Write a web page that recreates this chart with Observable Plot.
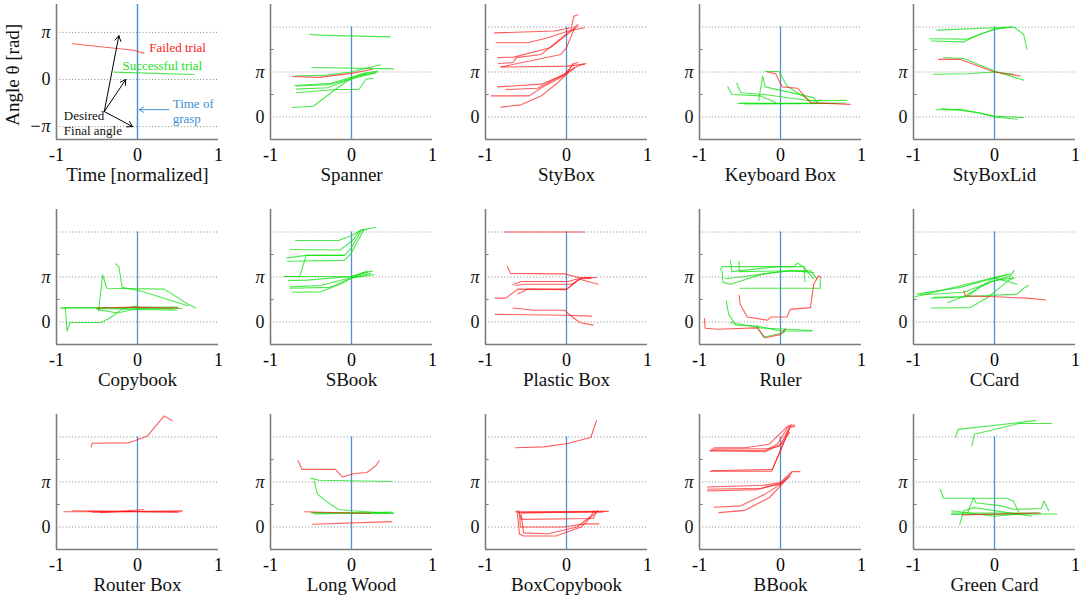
<!DOCTYPE html>
<html><head><meta charset="utf-8">
<script src="https://cdn.jsdelivr.net/npm/d3@7"></script>
<script src="https://cdn.jsdelivr.net/npm/@observablehq/plot@0.6"></script>
<style>
body{margin:0;background:#fff;}
#wrap{position:relative;width:1084px;height:600px;overflow:hidden;background:#fff;}
#wrap > div{position:absolute;}
#wrap svg{max-width:none !important;}
</style></head><body><div id="wrap"></div>
<script>
// ---------- data: [time (normalized), angle (in units of pi)] ----------
const titles = ["Time [normalized]","Spanner","StyBox","Keyboard Box","StyBoxLid","Copybook","SBook","Plastic Box","Ruler","CCard","Router Box","Long Wood","BoxCopybook","BBook","Green Card"];
const xTicks = [-1, 0, 1];
const yAxisTitle = "Angle θ [rad]";

const legendFailed = [[[-0.8,0.76],[-0.05,0.62],[0.08,0.56]]];
const legendSuccess = [[[-0.29,0.157],[0.70,0.107]]];
const desiredArrows = [
  {x1:-0.41,y1:-0.68,x2:-0.23,y2:0.93},
  {x1:-0.41,y1:-0.68,x2:-0.145,y2:0.0},
  {x1:-0.41,y1:-0.68,x2:-0.06,y2:-1.0}
];
const graspArrow = [{x1:0.39,y1:-0.64,x2:0.02,y2:-0.64}];
const legendLabels = [
  {x:0.145,y:0.68,s:"Failed trial",c:"#ff2020"},
  {x:-0.186,y:0.286,s:"Successful trial",c:"#22dd22"},
  {x:0.434,y:-0.52,s:"Time of",c:"#3d8fd6"},
  {x:0.434,y:-0.836,s:"grasp",c:"#3d8fd6"},
  {x:-0.909,y:-0.77,s:"Desired",c:"#111"},
  {x:-0.909,y:-1.08,s:"Final angle",c:"#111"}
];

const spannerS = [
  [[-0.52,1.84],[-0.4,1.82],[0.48,1.78]],
  [[-0.49,1.10],[0.52,1.07]],
  [[-0.7,0.91],[-0.3,0.93],[0,1.0],[0.36,1.16]],
  [[-0.68,0.69],[-0.3,0.72],[-0.1,0.80],[0.1,0.95],[0.32,1.02]],
  [[-0.68,0.62],[-0.3,0.65],[0,0.85],[0.3,0.98]],
  [[-0.68,0.54],[-0.2,0.61],[0.09,0.61],[0.18,0.84],[0.27,0.86]],
  [[-0.73,0.21],[-0.47,0.24],[-0.2,0.61],[-0.05,0.80],[0.19,0.99]],
  [[-0.7,0.70],[-0.25,0.75],[0,0.88],[0.32,1.0]]
];
const spannerF = [[[-0.73,0.90],[-0.4,0.88],[0,0.97],[0.26,1.06]]];

const styBoxS = [];
const styBoxF = [
  [[-0.89,1.87],[-0.15,1.91],[0.06,1.985],[0.09,2.24],[0.14,2.27]],
  [[-0.87,1.65],[-0.48,1.65],[-0.23,1.76],[0.02,1.91],[0.22,1.985]],
  [[-0.85,1.32],[-0.65,1.33],[-0.2,1.54],[0.14,2.02]],
  [[-0.84,1.19],[-0.66,1.21],[-0.62,1.32],[-0.31,1.39],[0.14,2.06]],
  [[-0.81,1.11],[-0.07,1.39],[0,1.54],[0.1,1.98]],
  [[-0.81,1.11],[0.0,1.13],[0.22,1.17]],
  [[-0.85,0.67],[-0.31,0.73],[-0.02,0.95],[0.08,1.17],[0.14,1.21]],
  [[-0.75,0.61],[-0.36,0.64],[-0.07,0.91],[0.18,1.17],[0.24,1.19]],
  [[-0.93,0.47],[-0.46,0.47],[-0.31,0.65],[0,0.95],[0.1,1.1]],
  [[-0.81,0.22],[-0.56,0.27],[-0.31,0.47],[-0.11,0.76],[0,0.95],[0.08,1.19]]
];

const keyboardS = [
  [[-0.53,0.30],[0.0,0.30],[0.70,0.30]],
  [[-0.5,0.31],[0.45,0.30]],
  [[-0.3,0.30],[0.8,0.31]],
  [[-0.45,0.29],[0.6,0.30]],
  [[-0.65,0.67],[-0.6,0.5],[-0.25,0.47],[-0.06,0.32]],
  [[-0.54,0.75],[-0.49,0.54],[-0.2,0.50],[0.37,0.36],[0.51,0.37]],
  [[-0.27,0.36],[-0.22,0.91],[-0.19,0.67],[0.41,0.43],[0.45,0.32]],
  [[-0.19,1.01],[-0.02,1.01],[0.08,0.69],[0.21,0.54],[0.37,0.36],[0.82,0.37]]
];
const keyboardF = [[[-0.16,1.0],[-0.06,0.96],[0.02,0.67],[0.21,0.64],[0.37,0.32],[0.86,0.28]]];

const styLidS = [
  [[-0.71,1.93],[-0.01,1.985],[0.24,2.0],[0.36,1.84],[0.40,1.50]],
  [[-0.8,1.74],[-0.34,1.73],[-0.01,1.95],[0.21,2.0]],
  [[-0.78,1.69],[-0.38,1.67],[-0.18,1.84],[0.01,1.95],[0.15,1.985]],
  [[-0.63,1.32],[-0.38,1.30],[0,1.02],[0.36,0.82]],
  [[-0.76,0.95],[-0.34,0.96],[0,1.0],[0.24,0.95]],
  [[-0.72,0.16],[-0.42,0.17],[0,0.02],[0.36,-0.01]],
  [[-0.65,0.19],[-0.2,0.1],[0.0,0.0],[0.28,-0.05]]
];
const styLidF = [[[-0.69,1.28],[-0.42,1.28],[0,1.0],[0.32,0.91]]];

const copybookS = [
  [[-0.95,0.31],[0.5,0.33]],
  [[-0.9,0.32],[0.55,0.30]],
  [[-0.5,0.30],[0.48,0.26]],
  [[-0.94,0.31],[-0.89,0.30],[-0.87,-0.2],[-0.83,-0.01],[-0.45,-0.01],[-0.33,0.10],[-0.2,0.28],[0,0.36]],
  [[-0.48,0.25],[-0.43,1.05],[-0.38,0.75],[0.33,0.73],[0.62,0.40],[0.72,0.31]],
  [[-0.27,1.29],[-0.23,1.23],[-0.19,0.77],[0.04,0.69],[0.62,0.36]],
  [[-0.5,0.28],[-0.25,0.20],[0,0.30],[0.45,0.29]]
];
const copybookF = [[[-0.5,0.31],[0.0,0.33],[0.5,0.31]]];

const sbookS = [
  [[-0.69,1.81],[-0.16,1.81],[0.01,1.93],[0.13,2.05],[0.30,2.10]],
  [[-0.76,1.61],[-0.14,1.60],[0.01,1.81],[0.11,2.04],[0.19,2.05]],
  [[-0.8,1.42],[-0.56,1.48],[-0.09,1.48],[-0.01,1.63],[0.13,2.05]],
  [[-0.79,1.35],[-0.09,1.37],[-0.01,1.51],[0.15,2.04]],
  [[-0.83,1.01],[-0.64,1.01],[-0.56,1.48],[-0.09,1.48]],
  [[-0.78,0.92],[-0.55,0.93],[0,1.01],[0.15,1.1],[0.26,1.13]],
  [[-0.76,0.78],[-0.38,0.81],[0,0.99],[0.19,1.13]],
  [[-0.76,0.75],[-0.26,0.77],[0,0.98],[0.24,1.08]],
  [[-0.73,0.66],[-0.38,0.67],[-0.14,0.84],[0,0.98],[0.28,1.05]],
  [[-0.83,1.01],[0,1.01],[0.2,1.1]]
];
const sbookF = [];

const plasticS = [];
const plasticF = [
  [[-0.77,2.0],[0.22,2.0]],
  [[-0.73,1.23],[-0.69,1.08],[-0.02,1.07],[0.1,1.01],[0.18,0.98],[0.37,0.99]],
  [[-0.66,0.83],[-0.56,0.90],[0.02,0.90],[0.14,0.96],[0.39,0.84]],
  [[-0.62,0.81],[-0.52,0.84],[0.06,0.84],[0.18,0.96],[0.3,0.97]],
  [[-0.6,0.62],[-0.48,0.73],[0,0.73],[0.18,0.98],[0.3,0.99]],
  [[-0.88,0.53],[-0.75,0.53],[-0.6,0.73],[0,0.72],[0.16,0.96]],
  [[-0.66,0.31],[-0.4,0.26],[-0.02,0.26],[0.04,0.16],[0.16,-0.01],[0.33,-0.07]],
  [[-0.88,0.17],[0,0.15],[0.31,0.13]]
];

const rulerS = [
  [[-0.62,1.37],[-0.60,1.12],[-0.04,1.23],[0.29,1.23],[0.30,0.90]],
  [[-0.51,1.35],[-0.51,1.12],[0.21,1.14],[0.37,1.14],[0.45,0.96]],
  [[-0.74,1.16],[-0.72,1.23],[0.16,1.23],[0.21,1.31],[0.29,1.22],[0.41,0.96]],
  [[-0.72,1.14],[-0.71,0.88],[-0.62,0.84],[-0.21,1.07],[0.12,1.14],[0.41,1.10]],
  [[-0.68,0.96],[-0.45,1.01],[-0.08,1.10],[0.12,1.14],[0.33,1.12]],
  [[-0.5,0.75],[0.49,0.75],[0.49,0.96]],
  [[-0.67,0.47],[-0.64,0.17],[-0.55,-0.07],[-0.29,-0.09],[-0.21,-0.34],[0.04,-0.24],[0.06,-0.16]],
  [[-0.62,-0.01],[-0.25,-0.13],[0.39,-0.19]],
  [[-0.29,-0.09],[0,-0.2],[0.39,-0.2]]
];
const rulerF = [
  [[-0.51,0.60],[-0.5,0.40],[-0.41,0.11],[-0.16,0.04],[-0.12,0.11],[0.08,0.11],[0.12,0.28],[0.37,0.32],[0.41,0.84],[0.47,1.03],[0.50,0.98]],
  [[-0.94,0.08],[-0.93,-0.14],[-0.78,-0.16],[-0.29,-0.13],[-0.19,-0.35],[0,-0.28],[0.06,-0.15]]
];

const ccardS = [
  [[-0.98,0.56],[0,0.99],[0.21,1.07],[0.24,1.14]],
  [[-0.96,0.62],[-0.42,0.77],[0,0.98],[0.28,0.84]],
  [[-0.92,0.60],[-0.38,0.66],[0,0.92],[0.21,1.03]],
  [[-0.78,0.53],[-0.34,0.56],[-0.18,0.77],[0,0.92],[0.24,0.98]],
  [[-0.78,0.31],[-0.3,0.32],[-0.09,0.54],[0.07,0.77],[0.17,0.92],[0.24,0.98]],
  [[-0.75,0.55],[-0.38,0.56],[0.28,0.62],[0.36,0.75],[0.42,0.81]],
  [[-0.58,0.43],[-0.34,0.60],[0,0.98],[0.15,1.05]]
];
const ccardF = [[[-0.38,0.69],[-0.36,0.58],[0,0.56],[0.4,0.53],[0.63,0.49]]];

const routerS = [];
const routerF = [
  [[-0.57,1.78],[-0.56,1.86],[-0.12,1.87],[-0.04,1.91],[0.12,2.02],[0.33,2.47],[0.43,2.36]],
  [[-0.91,0.34],[0.55,0.34]],
  [[-0.55,0.33],[0.55,0.36]],
  [[-0.45,0.32],[0.08,0.39]],
  [[-0.6,0.35],[0.45,0.34]],
  [[-0.8,0.36],[0.5,0.33]]
];

const longWoodS = [
  [[-0.5,1.08],[-0.4,1.04],[0.5,1.01]],
  [[-0.46,1.02],[-0.42,0.73],[-0.32,0.58],[-0.16,0.39],[0.01,0.36],[0.52,0.30]],
  [[-0.5,0.31],[0.52,0.31]],
  [[-0.46,0.29],[0.5,0.33]],
  [[-0.48,0.32],[0.45,0.30]]
];
const longWoodF = [
  [[-0.66,1.47],[-0.61,1.28],[-0.2,1.28],[-0.11,1.11],[0.03,1.19],[0.19,1.21],[0.3,1.36],[0.34,1.47]],
  [[-0.58,0.34],[0.23,0.30]],
  [[-0.48,0.06],[0.5,0.12]]
];

const boxCopyS = [];
const boxCopyF = [
  [[-0.63,1.76],[-0.28,1.78],[0,1.85],[0.3,1.99],[0.37,2.36]],
  [[-0.63,0.34],[0.5,0.35]],
  [[-0.6,0.32],[0.45,0.33]],
  [[-0.55,0.31],[0.52,0.35]],
  [[-0.61,0.36],[-0.58,-0.16],[-0.53,-0.2],[-0.13,-0.2],[0.18,0.0],[0.38,0.36]],
  [[-0.58,0.32],[-0.57,0.0],[-0.03,0.0],[0.23,0.07],[0.4,0.07]],
  [[-0.59,0.36],[-0.56,0.17],[0.33,0.19],[0.38,0.36]],
  [[-0.56,0.28],[-0.53,-0.13],[-0.23,-0.15],[0.13,0.0],[0.3,0.24],[0.34,0.36]]
];

const bbookS = [];
const bbookF = [
  [[-0.87,1.69],[-0.19,1.70],[-0.04,1.84],[0.09,2.21],[0.17,2.27]],
  [[-0.82,1.76],[-0.44,1.76],[-0.14,1.84],[0.09,2.24],[0.14,2.27]],
  [[-0.85,1.73],[-0.14,1.74],[-0.01,1.8],[0.12,2.24]],
  [[-0.87,1.70],[-0.19,1.67],[0.02,1.85],[0.11,2.1]],
  [[-0.87,1.24],[-0.11,1.24],[0.02,1.8],[0.12,2.21],[0.18,2.24]],
  [[-0.85,1.25],[-0.1,1.28],[0.0,1.69],[0.1,2.15]],
  [[-0.9,0.89],[-0.19,0.93],[0,0.99],[0.14,1.23],[0.24,1.23]],
  [[-0.9,0.84],[-0.24,0.86],[0,0.97],[0.09,1.10]],
  [[-0.82,0.44],[-0.49,0.47],[-0.19,0.73],[0,0.95],[0.12,1.13]],
  [[-0.76,0.32],[-0.44,0.37],[-0.14,0.65],[0,0.91],[0.14,1.21]],
  [[-0.9,0.80],[-0.3,0.83],[0,0.96]]
];

const greenCardS = [
  [[-0.48,2.0],[-0.45,2.17],[0.3,2.32],[0.51,2.37]],
  [[-0.28,1.8],[-0.25,2.06],[0.3,2.3],[0.71,2.3]],
  [[-0.67,0.84],[-0.63,0.64],[0.15,0.64],[0.23,0.58],[0.3,0.34]],
  [[-0.33,0.32],[-0.26,0.65],[-0.23,0.54],[0.08,0.47],[0.25,0.39],[0.58,0.41],[0.61,0.58],[0.67,0.36]],
  [[-0.43,0.06],[-0.38,0.36],[-0.25,0.43],[0.46,0.24]],
  [[-0.53,0.31],[0.57,0.31]],
  [[-0.53,0.28],[0.77,0.29]],
  [[-0.53,0.36],[0,0.24],[0.4,0.3]]
];
const greenCardF = [[[-0.4,0.27],[0.55,0.31]]];

const panelSuccess = [legendSuccess, spannerS, styBoxS, keyboardS, styLidS, copybookS, sbookS, plasticS, rulerS, ccardS, routerS, longWoodS, boxCopyS, bbookS, greenCardS];
const panelFailed  = [legendFailed, spannerF, styBoxF, keyboardF, styLidF, copybookF, sbookF, plasticF, rulerF, ccardF, routerF, longWoodF, boxCopyF, bbookF, greenCardF];

// ---------- layout ----------
const colLeft = [56, 270.2, 484.5, 698.8, 913];
const rowTop = [3.5, 209, 414];
const FW = 162, FH = 135;
const ML = 52, MR = 14, MT = 4, MB = 62;
const RED = "#ff1a1a", GREEN = "#11e011", BLUE = "#4a95d6", AX = "#7c7c7c";
const FONT = "'Liberation Serif', 'Times New Roman', serif";

function toRows(trials, kind) {
  const out = [];
  trials.forEach((tr, k) => tr.forEach(([t, v]) => out.push({t, v, id: kind + k})));
  return out;
}

const wrap = document.getElementById("wrap");
titles.forEach((title, i) => {
  const r = Math.floor(i / 5), c = i % 5;
  const legend = i === 0;
  const yDom = legend ? [-4 / Math.PI, 5 / Math.PI] : [-0.5, 2.5];
  const grid = legend ? [-1, 0, 1] : [0, 1, 2];
  const marks = [
    Plot.ruleY(grid, {stroke: "#8a8a8a", strokeDasharray: "1,2.2", strokeWidth: 1}),
    legend ? Plot.ruleX([0], {stroke: BLUE, strokeWidth: 1.5})
           : Plot.ruleX([0], {y1: -0.5, y2: 2, stroke: BLUE, strokeWidth: 1.3}),
    Plot.line(toRows(panelSuccess[i], "s"), {x: "t", y: "v", z: "id", stroke: GREEN, strokeWidth: 1.1, strokeOpacity: 0.75}),
    Plot.line(toRows(panelFailed[i], "f"), {x: "t", y: "v", z: "id", stroke: RED, strokeWidth: 1.1, strokeOpacity: 0.7}),
    Plot.ruleX([-1], {stroke: AX, strokeWidth: 1.6}),
    Plot.ruleY([yDom[0]], {stroke: AX, strokeWidth: 1.6}),
    Plot.axisX({ticks: xTicks, tickSize: 0, tickPadding: 9, fontSize: 18, label: null,
                tickFormat: d => d < 0 ? "-1" : String(d)}),
    Plot.text([title], {frameAnchor: "bottom", dy: 41, fontSize: 19, fill: "#111"}),
    Plot.text([0], {x: -1, y: d => d, text: () => "0", dx: -6, textAnchor: "end", fontSize: 18, fill: "#111"}),
    Plot.text([1], {x: -1, y: d => d, text: () => "π", dx: -6, textAnchor: "end", fontSize: 18, fontStyle: "italic", fill: "#111"})
  ];
  if (!legend) {
    marks.push(Plot.ruleY([0.5, 1.5], {x1: -1, x2: -0.955, stroke: AX, strokeWidth: 1}));
  } else {
    const mid = (yDom[0] + yDom[1]) / 2;
    marks.push(
      Plot.text([-1], {x: -1, y: d => d, text: () => "−π", dx: -6, textAnchor: "end", fontSize: 18, fontStyle: "italic", fill: "#111"}),
      Plot.text([yAxisTitle], {x: () => -1 - 44 / 81, y: () => mid - 0.06, rotate: -90, fontSize: 19, fill: "#111"}),
      Plot.arrow(desiredArrows, {x1: "x1", y1: "y1", x2: "x2", y2: "y2", stroke: "#000", strokeWidth: 1, headLength: 9, bend: false}),
      Plot.arrow(graspArrow, {x1: "x1", y1: "y1", x2: "x2", y2: "y2", stroke: BLUE, strokeWidth: 1, headLength: 8, bend: false}),
      Plot.text(legendLabels, {x: "x", y: "y", text: "s", fill: "c", textAnchor: "start", fontSize: 13})
    );
  }
  const W = ML + FW + MR, H = MT + FH + MB;
  const svg = Plot.plot({
    width: W, height: H,
    marginLeft: ML, marginRight: MR, marginTop: MT, marginBottom: MB,
    x: {domain: [-1, 1]},
    y: {domain: yDom, axis: null},
    style: {background: "transparent", overflow: "visible", fontFamily: FONT, maxWidth: "none"},
    marks
  });
  const div = document.createElement("div");
  div.style.left = (colLeft[c] - ML) + "px";
  div.style.top = (rowTop[r] - MT) + "px";
  div.style.width = W + "px";
  div.style.height = H + "px";
  div.appendChild(svg);
  wrap.appendChild(div);
});
</script></body></html>
